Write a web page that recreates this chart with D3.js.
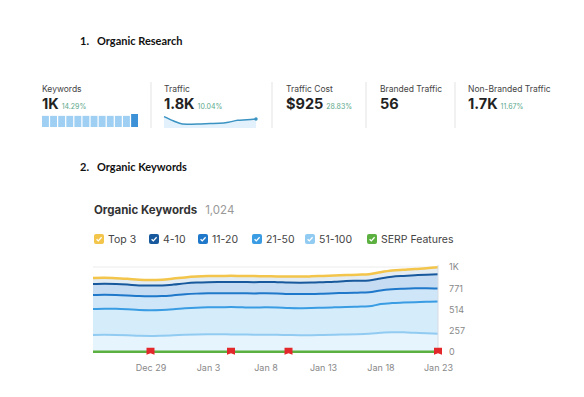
<!DOCTYPE html>
<html>
<head>
<meta charset="utf-8">
<script src="https://cdn.jsdelivr.net/npm/d3@7"></script>
<style>
  body { margin: 0; background: #fff; }
  svg text { font-family: Inter, "Open Sans", sans-serif; }
</style>
</head>
<body>
<svg id="main" width="584" height="397"></svg>
<script>
// summary metrics
const metricLabels = ["Keywords", "Traffic", "Traffic Cost", "Branded Traffic", "Non-Branded Traffic"];
const metricValues = ["1K", "1.8K", "$925", "56", "1.7K"];
const metricChanges = ["14.29%", "10.04%", "28.83%", "", "11.67%"];

// mini charts
const kwBars = [12, 12, 12, 12, 12, 12, 12, 12, 12, 12, 12, 14];
const trafficLine = [1900, 1820, 1760, 1755, 1760, 1765, 1770, 1790, 1830, 1840, 1855];

// organic keywords by position, Dec 24 .. Jan 23
const startDate = new Date(2023, 11, 24);
const top3   = [73, 72, 71, 70, 70, 69, 70, 73, 72, 72, 73, 73, 73, 74, 73, 68, 69, 72, 74, 75, 75, 75, 72, 73, 74, 75, 75, 75, 77, 77, 84];
const pos4_10 = [133, 133, 132, 131, 129, 129, 129, 130, 132, 134, 135, 135, 136, 136, 137, 136, 136, 138, 138, 139, 140, 140, 143, 144, 144, 145, 152, 155, 158, 163, 172];
const pos11_20 = [169, 168, 168, 168, 168, 168, 168, 169, 170, 170, 170, 170, 169, 170, 170, 172, 171, 170, 170, 169, 169, 170, 170, 170, 170, 165, 166, 167, 167, 164, 156];
const pos21_50 = [314, 316, 316, 314, 312, 312, 311, 314, 320, 324, 326, 328, 330, 328, 328, 330, 330, 326, 326, 328, 330, 332, 333, 332, 330, 348, 352, 360, 371, 382, 390];
const pos51_100 = [206, 208, 206, 202, 196, 194, 197, 202, 208, 212, 214, 214, 213, 212, 210, 210, 208, 206, 204, 204, 206, 208, 212, 216, 222, 232, 240, 238, 232, 226, 222];
const serp = [3, 3, 3, 3, 3, 3, 3, 3, 3, 3, 3, 3, 3, 3, 3, 3, 3, 3, 3, 3, 3, 3, 3, 3, 3, 3, 3, 3, 3, 3, 3];
const flagDays = [5, 12, 17, 30];

const yTicks = [0, 257, 514, 771, 1028];
const xTickDays = [5, 10, 15, 20, 25, 30];

const legendNames = ["Top 3", "4-10", "11-20", "21-50", "51-100", "SERP Features"];
const legendColors = ["#f3c54a", "#17599c", "#1f78c9", "#3a9de3", "#92cbf2", "#5cb040"];

const svg = d3.select("#main");
const dayMs = 24 * 3600 * 1000;
const dateOf = i => new Date(startDate.getTime() + i * dayMs);

// ---------- section headings ----------
function heading(num, txt, y) {
  svg.append("text").attr("x", 80).attr("y", y).text(num)
    .style("font-family", "Lato, sans-serif").style("font-weight", "bold").style("font-size", "11px").attr("fill", "#111");
  svg.append("text").attr("x", 97).attr("y", y).text(txt)
    .style("font-family", "Lato, sans-serif").style("font-weight", "bold").style("font-size", "11px").attr("fill", "#111");
}
heading("1.", "Organic Research", 45);
heading("2.", "Organic Keywords", 171);

// ---------- metric row ----------
const colX = [42, 164, 286, 380, 468];
const divX = [151, 272, 366, 455];
divX.forEach(x => svg.append("line").attr("x1", x).attr("x2", x).attr("y1", 82).attr("y2", 128)
  .attr("stroke", "#e3e3e3").attr("stroke-width", 1));

metricLabels.forEach((lab, i) => {
  svg.append("text").attr("x", colX[i]).attr("y", 92).text(lab)
    .style("font-size", "8.5px").attr("fill", "#444");
  const v = svg.append("text").attr("x", colX[i]).attr("y", 109).text(metricValues[i])
    .style("font-size", "14.5px").style("font-weight", "bold").attr("fill", "#222");
  const w = v.node().getComputedTextLength();
  if (metricChanges[i]) {
    svg.append("text").attr("x", colX[i] + w + 3).attr("y", 109).text(metricChanges[i])
      .style("font-size", "7px").attr("fill", "#5aa88a");
  }
});

// keywords bars
const kx = d3.scaleBand().domain(d3.range(kwBars.length)).range([42, 138]).paddingInner(0.15);
const ky = d3.scaleLinear().domain([0, 14]).range([127, 114]);
svg.selectAll(".kwbar").data(kwBars).enter().append("rect")
  .attr("x", (d, i) => kx(i)).attr("width", kx.bandwidth())
  .attr("y", d => ky(d)).attr("height", d => 127 - ky(d))
  .attr("fill", (d, i) => i === kwBars.length - 1 ? "#3d91d6" : "#9fd0f4");

// traffic sparkline
const tx = d3.scaleLinear().domain([0, trafficLine.length - 1]).range([164, 256]);
const ty = d3.scaleLinear().domain([1700, 1950]).range([127, 114]);
svg.append("path").datum(trafficLine)
  .attr("d", d3.area().x((d, i) => tx(i)).y0(128).y1(d => ty(d)).curve(d3.curveMonotoneX))
  .attr("fill", "#e2f1fb");
svg.append("path").datum(trafficLine)
  .attr("d", d3.line().x((d, i) => tx(i)).y(d => ty(d)).curve(d3.curveMonotoneX))
  .attr("fill", "none").attr("stroke", "#3a93c2").attr("stroke-width", 1.5);
svg.append("circle").attr("cx", tx(trafficLine.length - 1)).attr("cy", ty(trafficLine[trafficLine.length - 1]))
  .attr("r", 1.7).attr("fill", "#3a93c2");

// ---------- Organic Keywords card ----------
const title = svg.append("text").attr("x", 94).attr("y", 214).text("Organic Keywords")
  .style("font-size", "11.5px").style("font-weight", "bold").attr("fill", "#333");
const tw = title.node().getComputedTextLength();
svg.append("text").attr("x", 94 + tw + 8).attr("y", 214).text("1,024")
  .style("font-size", "11.5px").attr("fill", "#999");

// legend
const legX = [94, 149, 198, 252, 305, 367];
legendNames.forEach((n, i) => {
  const g = svg.append("g").attr("transform", `translate(${legX[i]},234)`);
  g.append("rect").attr("width", 10).attr("height", 10).attr("rx", 2).attr("fill", legendColors[i]);
  g.append("path").attr("d", "M2.6,5.2 L4.3,6.9 L7.6,3.3").attr("fill", "none")
    .attr("stroke", "#fff").attr("stroke-width", 1.3);
  g.append("text").attr("x", 14).attr("y", 9).text(n).style("font-size", "10.5px").attr("fill", "#444");
});

// main chart
const x = d3.scaleTime().domain([dateOf(0), dateOf(30)]).range([93, 438]);
const y = d3.scaleLinear().domain([0, 1028]).range([352, 267]);

// gridlines
svg.append("g").selectAll("line").data(yTicks).enter().append("line")
  .attr("x1", 93).attr("x2", 438).attr("y1", d => y(d)).attr("y2", d => y(d))
  .attr("stroke", "#ececec");

const rows = top3.map((d, i) => ({
  date: dateOf(i), p51: pos51_100[i], p21: pos21_50[i], p11: pos11_20[i], p4: pos4_10[i], t3: d
}));
const keys = ["p51", "p21", "p11", "p4", "t3"];
const keyColors = ["#92cbf2", "#3a9de3", "#1f78c9", "#17599c", "#f3c54a"];
const bandFills = ["#e6f4fd", "#d5ecfb", "#cfe5f8", "#c6dcf2", "#e3ebf3"];
const stacked = d3.stack().keys(keys)(rows);

const area = d3.area().x(d => x(d.data.date)).y0(d => y(d[0])).y1(d => y(d[1])).curve(d3.curveMonotoneX);
const line = d3.line().x(d => x(d.data.date)).y(d => y(d[1])).curve(d3.curveMonotoneX);

svg.append("g").selectAll("path").data(stacked).enter().append("path")
  .attr("d", area).attr("fill", (d, i) => bandFills[i]);
svg.append("g").selectAll("path").data(stacked).enter().append("path")
  .attr("d", line).attr("fill", "none")
  .attr("stroke", (d, i) => keyColors[i]).attr("stroke-width", (d, i) => i === 4 ? 2.5 : 2);

// right edge line
svg.append("line").attr("x1", 438).attr("x2", 438).attr("y1", 265).attr("y2", 352)
  .attr("stroke", "#d8dde3");

// serp features
svg.append("path").datum(serp)
  .attr("d", d3.line().x((d, i) => x(dateOf(i))).y(d => y(d)))
  .attr("fill", "none").attr("stroke", "#5cb040").attr("stroke-width", 2.5);

// flags
svg.append("g").selectAll("path").data(flagDays).enter().append("path")
  .attr("transform", d => `translate(${x(dateOf(d))},${y(serp[d])})`)
  .attr("d", "M-4,-4 L4,-4 L4,3 L0,1.5 L-4,3 Z")
  .attr("fill", "#e3282b");

// y axis
const yAxis = svg.append("g").attr("transform", "translate(438,0)")
  .call(d3.axisRight(y).tickValues(yTicks).tickSize(0).tickPadding(11)
    .tickFormat(d => d >= 1000 ? "1K" : d));
yAxis.select(".domain").remove();
yAxis.selectAll("text").style("font-size", "9px").attr("fill", "#888");

// x axis
const xAxis = svg.append("g").attr("transform", "translate(0,352)")
  .call(d3.axisBottom(x).tickValues(xTickDays.map(dateOf)).tickSize(0).tickPadding(13)
    .tickFormat(d3.timeFormat("%b %-d")));
xAxis.select(".domain").remove();
xAxis.selectAll("text").style("font-size", "9px").attr("fill", "#888");
</script>
</body>
</html>
